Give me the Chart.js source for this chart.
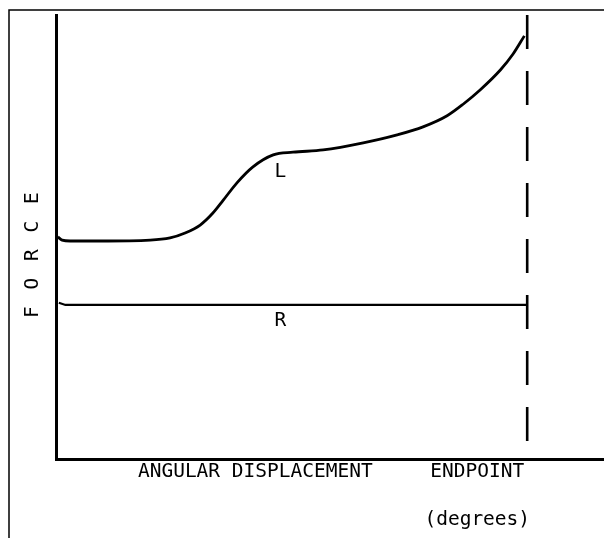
<!DOCTYPE html>
<html>
<head>
<meta charset="utf-8">
<script src="https://cdn.jsdelivr.net/npm/chart.js@4"></script>
<style>
  html, body { margin: 0; padding: 0; background: #fff; }
  #wrap { width: 604px; height: 538px; position: relative; }
</style>
</head>
<body>
<div id="wrap"><canvas id="forceCanvas"></canvas></div>
<script>
// angular displacement (0 = start, 100 = endpoint) and force
const curveX = [0.4, 1.3, 3.0, 9.3, 20.0, 24.2, 27.4, 30.6, 33.3, 35.5, 38.4, 41.8, 46.1, 50.3, 56.7, 65.2, 72.4, 77.9, 83.0, 86.4, 90.0, 94.3, 97.0, 99.4];
const curveY = [50.0, 49.3, 49.1, 49.1, 49.3, 49.8, 50.9, 52.7, 55.4, 58.3, 62.2, 65.8, 68.5, 69.1, 69.6, 71.2, 73.0, 74.8, 77.3, 79.9, 83.1, 87.6, 91.2, 95.3];
const restX = [0.6, 2.0, 100];
const restY = [35.2, 34.7, 34.7];
const endpointX = [100, 100];
const endpointY = [100, 0];
const tickValues = [42.3, 89.4];
const tickLabels = [['ANGULAR DISPLACEMENT'], ['ENDPOINT', '', '(degrees)']];
const curveNames = [{ text: 'L', x: 47.6, y: 64.6 }, { text: 'R', x: 47.6, y: 31.1 }];
const axisName = 'F O R C E';

const FONT = '"DejaVu Sans Mono", monospace';
const toPoints = (xs, ys) => xs.map((x, i) => ({ x: x, y: ys[i] }));

// scan border + the hand lettering that is not an axis tick
const sketchText = {
    id: 'sketchText',
    afterDraw(chart) {
        const ctx = chart.ctx;
        const xs = chart.scales.x, ys = chart.scales.y;
        ctx.save();
        ctx.strokeStyle = '#000';
        ctx.lineWidth = 1.5;
        ctx.beginPath();
        ctx.moveTo(9, chart.height);
        ctx.lineTo(9, 10);
        ctx.lineTo(chart.width, 10);
        ctx.stroke();

        ctx.fillStyle = '#000';
        ctx.font = '19.5px ' + FONT;
        ctx.textAlign = 'center';
        ctx.textBaseline = 'middle';
        curveNames.forEach(n => ctx.fillText(n.text, xs.getPixelForValue(n.x), ys.getPixelForValue(n.y)));

        ctx.translate(chart.chartArea.left - 23, ys.getPixelForValue(46.2));
        ctx.rotate(-Math.PI / 2);
        ctx.letterSpacing = '2.5px';
        ctx.fillText(axisName, 0, 0);
        ctx.restore();
    }
};

new Chart(document.getElementById('forceCanvas'), {
    type: 'line',
    data: {
        datasets: [{
            data: toPoints(curveX, curveY),
            borderColor: '#000',
            borderWidth: 2.8,
            cubicInterpolationMode: 'monotone',
            pointRadius: 0,
        }, {
            data: toPoints(restX, restY),
            borderColor: '#000',
            borderWidth: 2.2,
            tension: 0,
            pointRadius: 0,
        }, {
            data: toPoints(endpointX, endpointY),
            borderColor: '#000',
            borderWidth: 2.6,
            borderDash: [34, 22],
            pointRadius: 0,
        }],
    },
    options: {
        responsive: true,
        maintainAspectRatio: false,
        animation: false,
        layout: { padding: { top: 15, left: 0, right: 0, bottom: 0 } },
        scales: {
            x: {
                type: 'linear',
                min: 0,
                max: 116.3,
                afterFit: (scale) => { scale.height = 79; },
                afterBuildTicks: (scale) => { scale.ticks = tickValues.map(v => ({ value: v })); },
                grid: { display: false, drawTicks: false },
                border: { display: true, color: '#000', width: 3 },
                ticks: {
                    autoSkip: false,
                    maxRotation: 0,
                    padding: 1,
                    color: '#000',
                    font: { family: FONT, size: 19.5, lineHeight: '24px' },
                    callback: (value, index) => tickLabels[index],
                },
            },
            y: {
                type: 'linear',
                min: 0,
                max: 100,
                afterFit: (scale) => { scale.width = 56; },
                grid: { display: false, drawTicks: false },
                border: { display: true, color: '#000', width: 3 },
                ticks: { display: false },
            },
        },
        plugins: {
            legend: { display: false },
            tooltip: { enabled: false },
        },
    },
    plugins: [sketchText],
});
</script>
</body>
</html>
